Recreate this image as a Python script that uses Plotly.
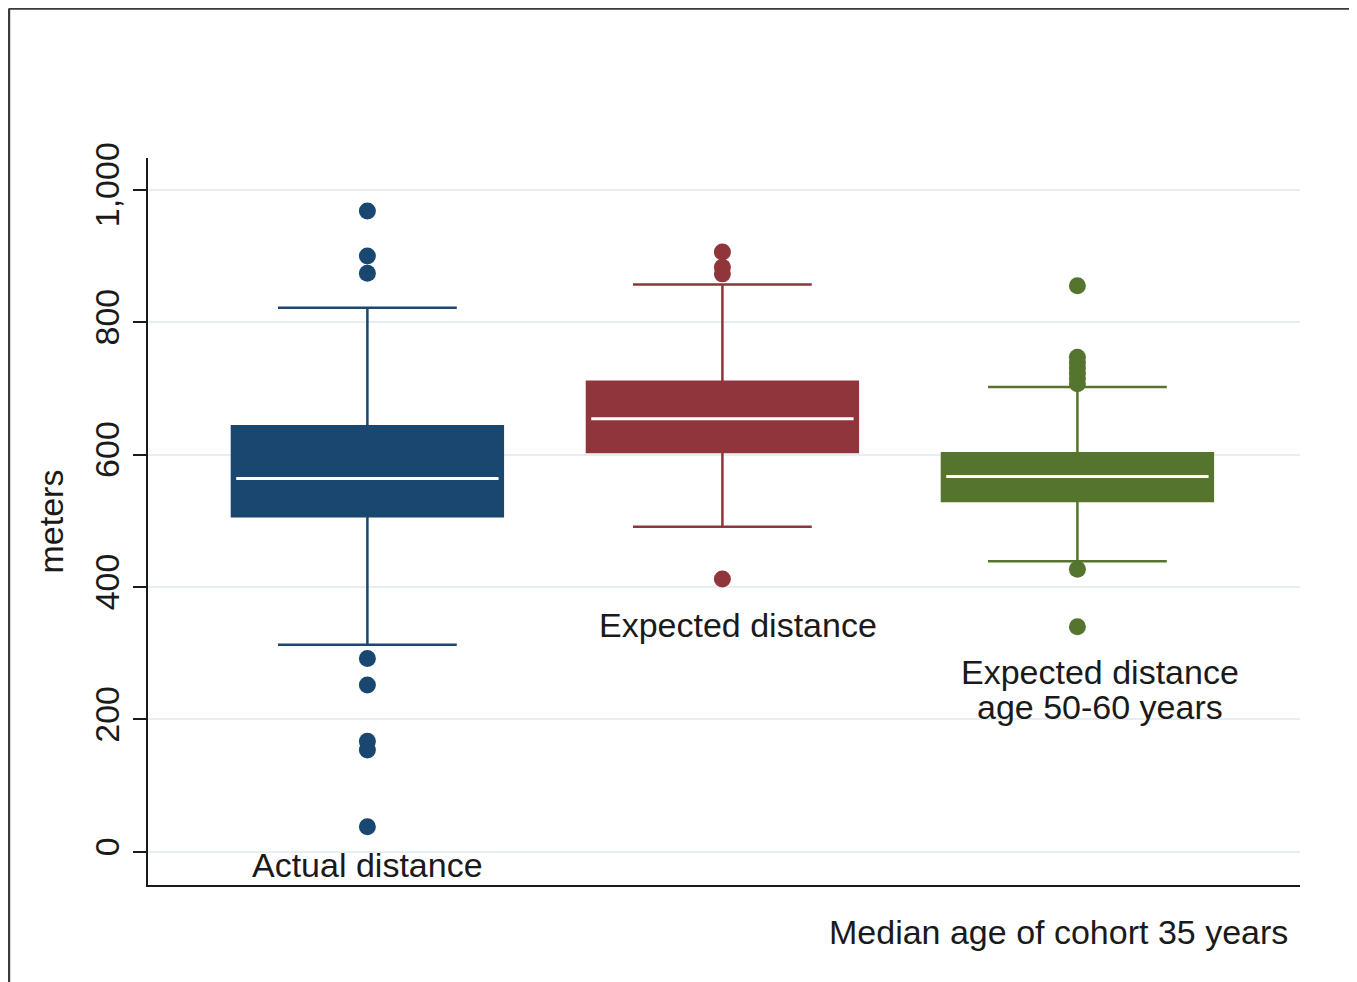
import plotly.graph_objects as go

# ---------------- data ----------------
groups = ["Actual distance", "Expected distance", "Expected distance"]
sub_labels = ["", "", "age 50-60 years"]
positions = [1, 2, 3]
colors = ["#1a476f", "#90353b", "#55752f"]

q1 = [507, 604, 530]
median = [564, 654, 567]
q3 = [643, 710, 602]
lower_whisker = [313, 491, 439]
upper_whisker = [822, 857, 702]

outliers = [
    [968, 900, 874, 292, 252, 167, 154, 38],
    [906, 883, 873, 412],
    [855, 747, 739, 731, 723, 715, 707, 427, 340],
]

label_x = [1.0, 2.045, 3.065]
label_y = [-20, 342, 271]
sub_label_y = [None, None, 219]

y_ticks = [0, 200, 400, 600, 800, 1000]
x_note = "Median age of cohort 35 years"
y_title = "meters"

BOX_W = 0.763
FONT = "Liberation Sans, Arial, sans-serif"
FS = 34
TXT = "#1a1a1a"

fig = go.Figure()

for i in range(3):
    fig.add_trace(go.Box(
        x=[positions[i]],
        q1=[q1[i]], median=[median[i]], q3=[q3[i]],
        lowerfence=[lower_whisker[i]], upperfence=[upper_whisker[i]],
        width=BOX_W, whiskerwidth=0.66,
        fillcolor=colors[i], line=dict(color=colors[i], width=2.5),
        boxpoints=False, showlegend=False, hoverinfo="skip",
    ))
    # white median line
    fig.add_trace(go.Scatter(
        x=[positions[i] - BOX_W / 2 + 0.012, positions[i] + BOX_W / 2 - 0.012],
        y=[median[i], median[i]],
        mode="lines", line=dict(color="white", width=3),
        showlegend=False, hoverinfo="skip",
    ))
    # outside values
    fig.add_trace(go.Scatter(
        x=[positions[i]] * len(outliers[i]), y=outliers[i],
        mode="markers", marker=dict(color=colors[i], size=17, line=dict(width=0)),
        showlegend=False, hoverinfo="skip",
    ))
    fig.add_annotation(
        x=label_x[i], y=label_y[i], xref="x", yref="y",
        text=groups[i], showarrow=False,
        font=dict(family=FONT, size=FS, color=TXT),
        xanchor="center", yanchor="middle",
    )
    if sub_labels[i]:
        fig.add_annotation(
            x=label_x[i], y=sub_label_y[i], xref="x", yref="y",
            text=sub_labels[i], showarrow=False,
            font=dict(family=FONT, size=FS, color=TXT),
            xanchor="center", yanchor="middle",
        )

fig.add_annotation(
    x=0.991, y=-0.0646, xref="paper", yref="paper",
    text=x_note, showarrow=False,
    font=dict(family=FONT, size=FS, color=TXT),
    xanchor="right", yanchor="middle",
)

# outer frame lines (top and left)
fig.add_shape(type="line", xref="paper", yref="paper",
              x0=-0.1207, x1=1.05, y0=1.2055, y1=1.2055,
              line=dict(color="#3a3a3a", width=2.5))
fig.add_shape(type="line", xref="paper", yref="paper",
              x0=-0.1207, x1=-0.1207, y0=1.2055, y1=-0.14,
              line=dict(color="#3a3a3a", width=2.5))

fig.update_layout(
    width=1349, height=974,
    margin=dict(l=140, r=57, t=150, b=97),
    paper_bgcolor="white", plot_bgcolor="white",
    font=dict(family=FONT, size=FS, color=TXT),
    showlegend=False,
    xaxis=dict(
        range=[0.382, 3.627], showgrid=False, zeroline=False,
        showticklabels=False, ticks="", showline=True,
        linecolor=TXT, linewidth=2,
    ),
    yaxis=dict(
        range=[-50, 1048], tickvals=y_ticks, tickformat=",",
        tickangle=-90, ticks="outside", ticklen=13, tickwidth=1.5,
        tickcolor=TXT, showline=True, linecolor=TXT, linewidth=2,
        showgrid=True, gridcolor="#e6eef1", gridwidth=2, zeroline=False,
        tickfont=dict(family=FONT, size=FS, color=TXT),
        title=dict(text=y_title, standoff=15,
                   font=dict(family=FONT, size=FS, color=TXT)),
    ),
)

fig.write_html("out.html")
